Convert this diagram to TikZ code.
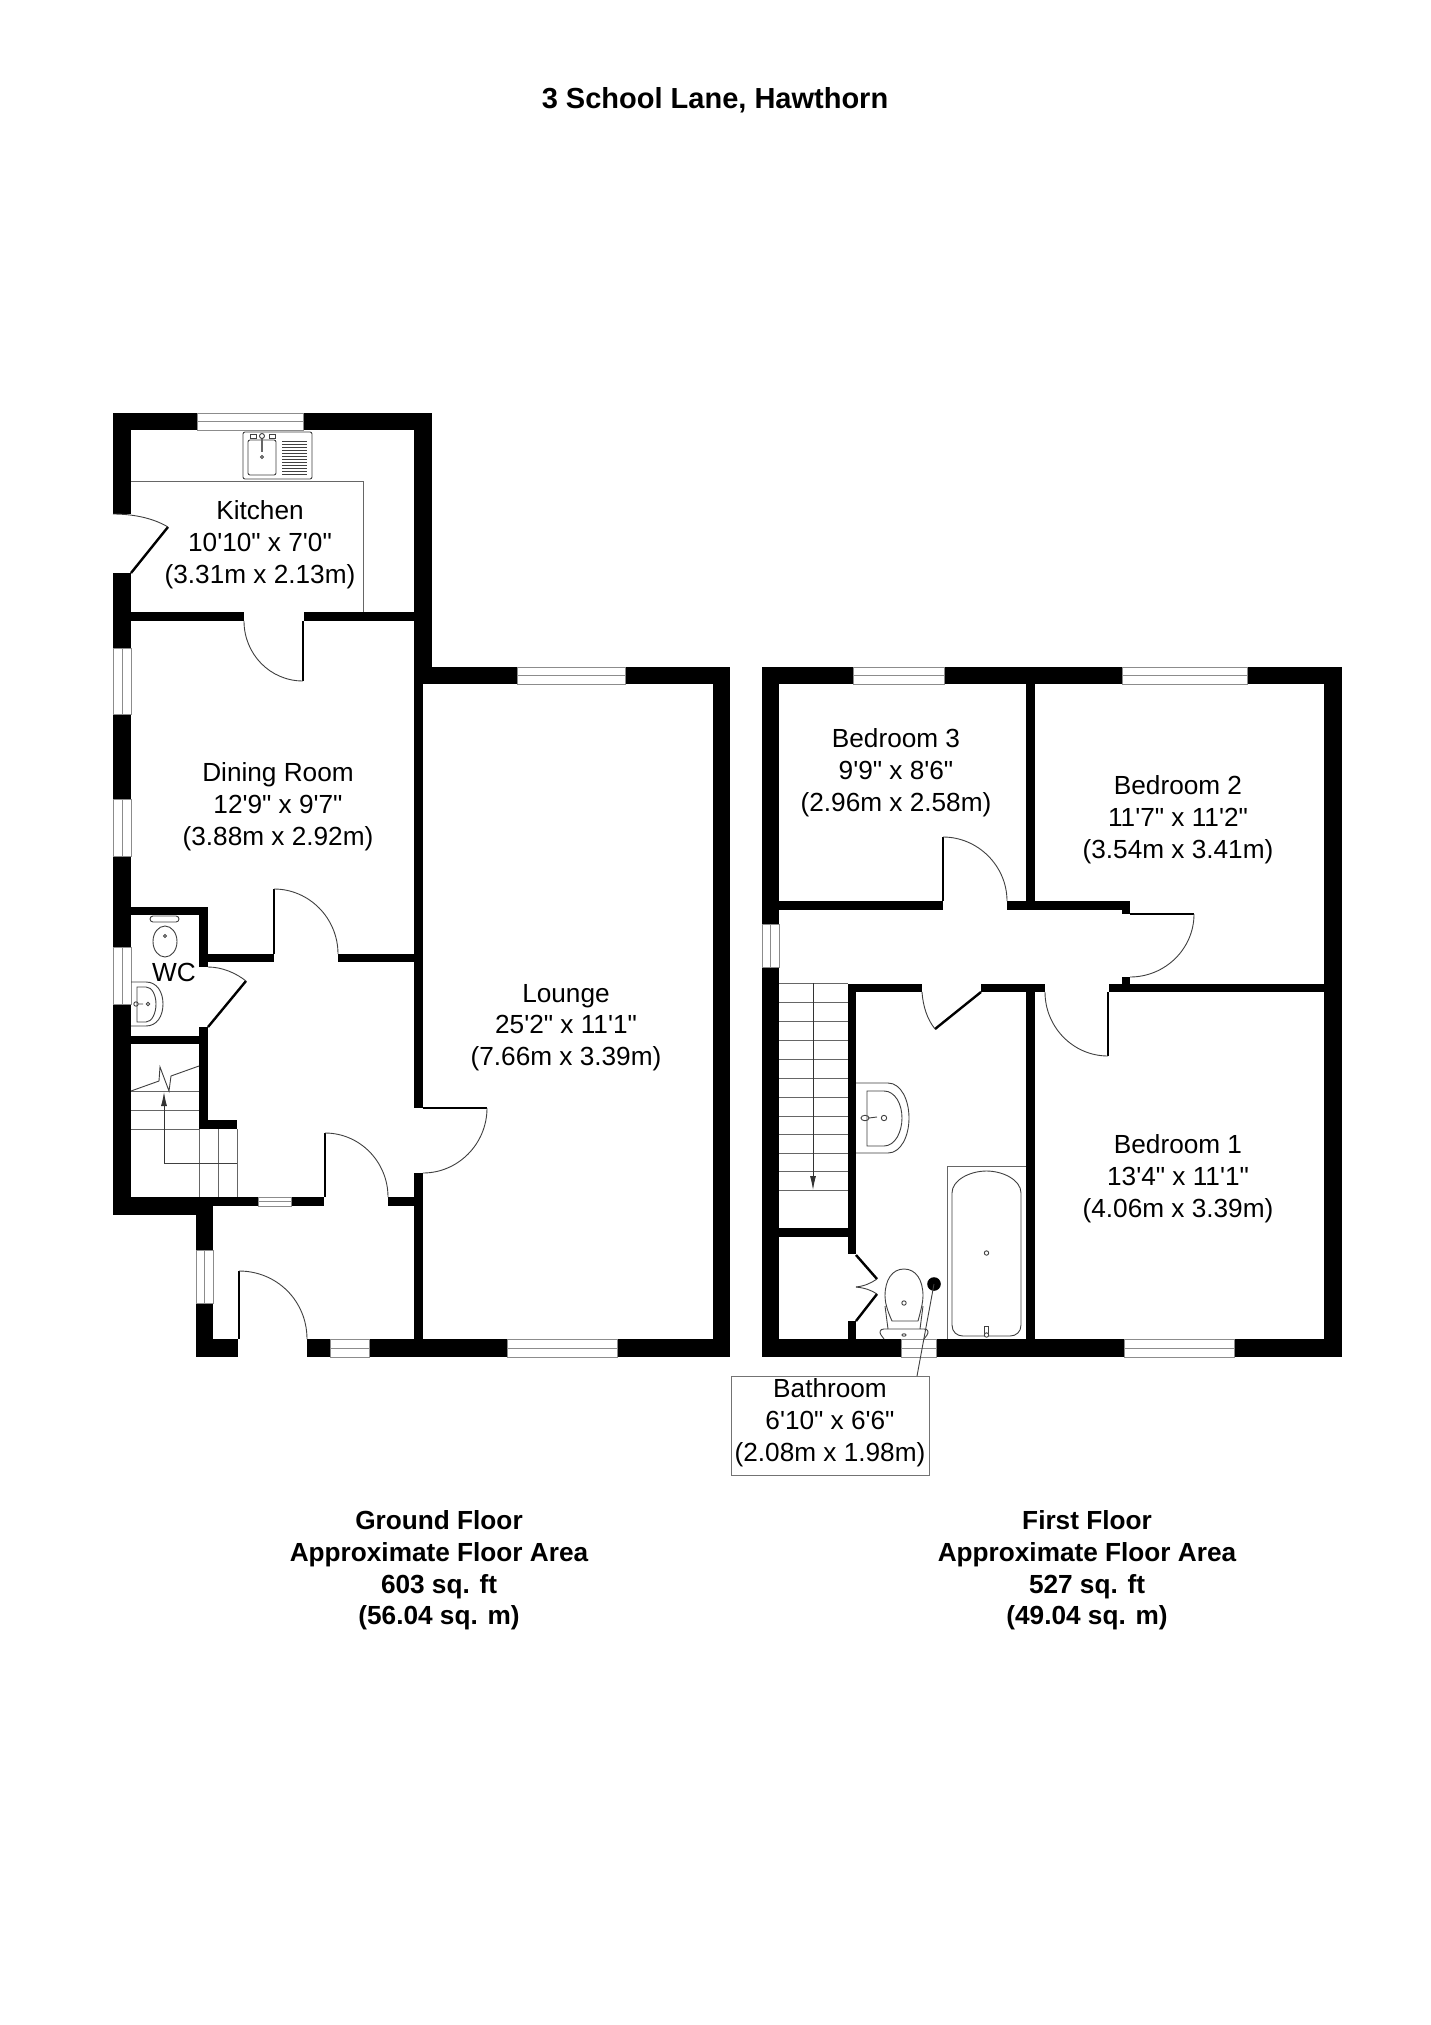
\documentclass[tikz,border=0pt]{standalone}
\usepackage{fontspec}
\setmainfont[Ligatures=TeXOff]{Liberation Sans}
\usetikzlibrary{arrows.meta}
\tikzset{
  wall/.style={fill=black,draw=none},
  window/.style={fill=white,draw=black!45,line width=1pt},
  paneline/.style={draw=black!45,line width=1pt},
  leaf/.style={draw=black,line width=2.4pt},
  swing/.style={draw=black!75,line width=0.9pt},
  fitting/.style={draw=black!75,line width=0.9pt},
  tread/.style={draw=black!60,line width=1pt},
  run/.style={draw=black!80,line width=0.9pt,-{Latex[length=14pt,width=6pt]}},
  roomlabel/.style={align=center,inner sep=0pt,font=\fontsize{26.2}{31.8}\selectfont},
  arealabel/.style={align=center,inner sep=0pt,font=\fontsize{26.2}{31.8}\selectfont\bfseries}
}
\begin{document}
\begin{tikzpicture}[x=1pt,y=-1pt]
\useasboundingbox (0,0) rectangle (1431,2025);
\fill[white] (0,0) rectangle (1431,2025);
% ground floor
\fill[wall] (113,413) rectangle (432,430);
\fill[wall] (113,413) rectangle (131,514);
\fill[wall] (113,573) rectangle (131,1215);
\fill[wall] (414,413) rectangle (432,667);
\fill[wall] (414,667) rectangle (423,1108);
\fill[wall] (414,667) rectangle (730,684);
\fill[wall] (713,667) rectangle (730,1357);
\fill[wall] (113,612) rectangle (244,621);
\fill[wall] (304,612) rectangle (432,621);
\fill[wall] (113,907) rectangle (208,915);
\fill[wall] (199,907) rectangle (208,967);
\fill[wall] (199,954) rectangle (274,962);
\fill[wall] (338,954) rectangle (423,962);
\fill[wall] (199,1027) rectangle (208,1129);
\fill[wall] (113,1036) rectangle (208,1044);
\fill[wall] (199,1120) rectangle (237,1129);
\fill[wall] (113,1197) rectangle (324,1206);
\fill[wall] (388,1197) rectangle (423,1206);
\fill[wall] (113,1197) rectangle (213,1215);
\fill[wall] (196,1215) rectangle (213,1357);
\fill[wall] (414,1173) rectangle (423,1339);
\fill[wall] (196,1339) rectangle (238,1357);
\fill[wall] (307,1339) rectangle (730,1357);
\draw[window] (197,413) rectangle (303,430);
\draw[paneline] (197,421.5) -- (303,421.5);
\draw[window] (517,667) rectangle (625,684);
\draw[paneline] (517,675.5) -- (625,675.5);
\draw[window] (113,648) rectangle (131,714);
\draw[paneline] (122,648) -- (122,714);
\draw[window] (113,799) rectangle (131,856);
\draw[paneline] (122,799) -- (122,856);
\draw[window] (113,947) rectangle (131,1004);
\draw[paneline] (122,947) -- (122,1004);
\draw[window] (258,1197) rectangle (291,1206);
\draw[paneline] (258,1201.5) -- (291,1201.5);
\draw[window] (196,1250) rectangle (213,1303);
\draw[paneline] (204.5,1250) -- (204.5,1303);
\draw[window] (330,1339) rectangle (369,1357);
\draw[paneline] (330,1348) -- (369,1348);
\draw[window] (507,1339) rectangle (617,1357);
\draw[paneline] (507,1348) -- (617,1348);
% ground floor doors
\draw[leaf] (131,573) -- (168,527);
\draw[swing] (113,514) .. controls (133,514) and (153,518) .. (168,527);
\draw[leaf] (303,621) -- (303,681);
\draw[swing] (244,621) .. controls (244,654) and (270,681) .. (303,681);
\draw[leaf] (274,954) -- (274,889);
\draw[swing] (274,889) .. controls (309,889) and (338,918) .. (338,954);
\draw[leaf] (208,1027) -- (246,981);
\draw[swing] (208,967) .. controls (222,967) and (236,973) .. (246,981);
\draw[leaf] (423,1108) -- (487,1108);
\draw[swing] (487,1108) .. controls (487,1144) and (458,1173) .. (423,1173);
\draw[leaf] (325,1197) -- (325,1133);
\draw[swing] (325,1133) .. controls (360,1133) and (388,1162) .. (388,1197);
\draw[leaf] (239,1339) -- (239,1271);
\draw[swing] (239,1271) .. controls (277,1271) and (307,1301) .. (307,1339);
% kitchen fittings
\draw[tread] (131,481) -- (363,481) -- (363,612);
\draw[fitting,fill=white,rounded corners=2pt] (243,432) rectangle (312,479);
\draw[fitting,rounded corners=2pt] (248,440) rectangle (276,475);
\draw[fitting,line width=0.7pt] (282,441) -- (307,441) (282,444) -- (307,444) (282,447) -- (307,447)
  (282,450) -- (307,450) (282,453) -- (307,453) (282,456) -- (307,456) (282,459) -- (307,459)
  (282,462) -- (307,462) (282,465) -- (307,465) (282,468) -- (307,468) (282,471) -- (307,471) (282,474) -- (307,474);
\draw[black!60,line width=2.5pt] (262,438) -- (262,452);
\draw[fitting,fill=white] (262,436) circle (2.5pt);
\draw[fitting] (262,457) circle (1.5pt);
\draw[fitting] (250,434.5) rectangle (256,438) (269,434.5) rectangle (275,438);
% wc fittings
\draw[fitting,rounded corners=3pt] (150,916) rectangle (179,922);
\draw[fitting] (165,941.5) ellipse [x radius=12,y radius=15.5];
\draw[fitting] (165,936) circle (1.5pt);
\draw[fitting] (131,982) -- (146,982) .. controls (157,982) and (163,992) .. (163,1004) .. controls (163,1016) and (157,1026) .. (146,1026) -- (131,1026);
\draw[fitting] (137,987) -- (146,987) .. controls (152,987) and (156,995) .. (156,1004) .. controls (156,1013) and (152,1022) .. (146,1022) -- (137,1022) -- cycle;
\draw[fitting] (148,1004) circle (1.7pt);
\draw[fitting] (136,1004) circle (2.2pt) (138,1004) -- (143,1004);
\node[roomlabel] (wclabel) at (174,972) {WC};
% ground floor stairs
\draw[tread] (131,1091) -- (199,1091);
\draw[tread] (131,1110) -- (199,1110);
\draw[tread] (131,1129) -- (199,1129);
\draw[tread] (199,1129) -- (199,1197);
\draw[tread] (218,1129) -- (218,1197);
\draw[tread] (237,1129) -- (237,1197);
\draw[fitting] (164,1163) -- (237,1163);
\draw[run] (164,1163) -- (164,1092);
\draw[fitting] (131,1091) -- (159,1081) -- (160,1067) -- (169,1091) -- (171,1076) -- (199,1066);
% first floor
\fill[wall] (762,667) rectangle (1342,684);
\fill[wall] (762,667) rectangle (779,1357);
\fill[wall] (1324,667) rectangle (1342,1357);
\fill[wall] (762,1339) rectangle (1342,1357);
\fill[wall] (1026,667) rectangle (1035,910);
\fill[wall] (762,901) rectangle (943,910);
\fill[wall] (1007,901) rectangle (1130,910);
\fill[wall] (1122,910) rectangle (1130,914);
\fill[wall] (1122,977) rectangle (1130,984);
\fill[wall] (848,984) rectangle (922,992);
\fill[wall] (981,984) rectangle (1045,992);
\fill[wall] (1109,984) rectangle (1324,992);
\fill[wall] (1026,984) rectangle (1035,1339);
\fill[wall] (848,984) rectangle (856,1254);
\fill[wall] (762,1228) rectangle (856,1237);
\fill[wall] (848,1321) rectangle (856,1339);
\draw[window] (853,667) rectangle (944,684);
\draw[paneline] (853,675.5) -- (944,675.5);
\draw[window] (1122,667) rectangle (1247,684);
\draw[paneline] (1122,675.5) -- (1247,675.5);
\draw[window] (762,924) rectangle (779,967);
\draw[paneline] (770.5,924) -- (770.5,967);
\draw[window] (901,1339) rectangle (936,1357);
\draw[paneline] (901,1348) -- (936,1348);
\draw[window] (1124,1339) rectangle (1234,1357);
\draw[paneline] (1124,1348) -- (1234,1348);
% first floor doors
\draw[leaf] (943,901) -- (943,837);
\draw[swing] (943,837) .. controls (978,837) and (1007,866) .. (1007,901);
\draw[leaf] (1130,914) -- (1194,914);
\draw[swing] (1194,914) .. controls (1194,949) and (1165,977) .. (1130,977);
\draw[leaf] (981,992) -- (935,1029);
\draw[swing] (922,992) .. controls (923,1006) and (927,1019) .. (935,1029);
\draw[leaf] (1108,992) -- (1108,1056);
\draw[swing] (1045,992) .. controls (1045,1027) and (1073,1056) .. (1108,1056);
\draw[leaf] (856,1255) -- (877,1279);
\draw[leaf] (856,1321) -- (877,1294);
\draw[swing] (856,1287) .. controls (865,1286) and (871,1283) .. (877,1279);
\draw[swing] (856,1287) .. controls (865,1288) and (871,1290) .. (877,1294);
% first floor stairs
\draw[tread] (779,983) -- (848,983);
\draw[tread] (779,1002) -- (848,1002);
\draw[tread] (779,1021) -- (848,1021);
\draw[tread] (779,1040) -- (848,1040);
\draw[tread] (779,1059) -- (848,1059);
\draw[tread] (779,1078) -- (848,1078);
\draw[tread] (779,1097) -- (848,1097);
\draw[tread] (779,1116) -- (848,1116);
\draw[tread] (779,1134) -- (848,1134);
\draw[tread] (779,1153) -- (848,1153);
\draw[tread] (779,1171) -- (848,1171);
\draw[tread] (779,1190) -- (848,1190);
\draw[run] (813,983) -- (813,1190);
% bathroom fittings
\draw[fitting] (856,1083) -- (888,1083) .. controls (901,1083) and (909,1100) .. (909,1118) .. controls (909,1136) and (901,1153) .. (888,1153) -- (856,1153);
\draw[fitting] (867,1091) -- (884,1091) .. controls (895,1091) and (902,1104) .. (902,1118) .. controls (902,1132) and (895,1146) .. (884,1146) -- (867,1146) -- cycle;
\draw[fitting] (884,1118) circle (2.7pt);
\draw[fitting] (865,1118) ellipse [x radius=4,y radius=2.7];
\draw[fitting] (869,1118) -- (877,1117);
\draw[tread] (947,1339) -- (947,1166) -- (1026,1166);
\draw[fitting] (952,1325) -- (952,1193) .. controls (952,1180) and (970,1171) .. (986.5,1171) .. controls (1003,1171) and (1021,1180) .. (1021,1193) -- (1021,1325)
  .. controls (1021,1332) and (1016,1336) .. (1010,1336) -- (963,1336) .. controls (957,1336) and (952,1332) .. (952,1325);
\draw[fitting] (986.5,1253) circle (2.2pt);
\draw[fitting,fill=white] (984.5,1326) rectangle (988.5,1333);
\draw[fitting,fill=white] (986.5,1335) circle (2.2pt);
\draw[fitting] (892,1321) .. controls (887,1310) and (885,1302) .. (885,1296) .. controls (885,1280) and (892,1269) .. (904,1269) .. controls (916,1269) and (923,1280) .. (923,1296) .. controls (923,1302) and (921,1310) .. (918,1321) -- cycle;
\draw[fitting] (904,1303) circle (2.2pt);
\draw[fitting] (885,1306) -- (888,1329) (923,1306) -- (920,1329);
\draw[fitting] (884,1329) -- (924,1329) .. controls (928,1329) and (929,1332) .. (927,1335) -- (924,1339) (884,1329) .. controls (880,1329) and (879,1332) .. (881,1335) -- (884,1339);
\draw[fitting] (904,1335) ellipse [x radius=2,y radius=1.2];
\coordinate (bathdot) at (934,1284);
\fill (bathdot) circle (6.8pt);
% labels
\node[roomlabel] (kitchenlabel) at (260,544.5) {Kitchen\\10'10" x 7'0"\\(3.31m x 2.13m)};
\node[roomlabel] (dininglabel) at (278,806.5) {Dining Room\\12'9" x 9'7"\\(3.88m x 2.92m)};
\node[roomlabel] (loungelabel) at (566,1027.5) {Lounge\\25'2" x 11'1"\\(7.66m x 3.39m)};
\node[roomlabel] (bedthreelabel) at (896,772.5) {Bedroom 3\\9'9" x 8'6"\\(2.96m x 2.58m)};
\node[roomlabel] (bedtwolabel) at (1178,819.5) {Bedroom 2\\11'7" x 11'2"\\(3.54m x 3.41m)};
\node[roomlabel] (bedonelabel) at (1178,1178.5) {Bedroom 1\\13'4" x 11'1"\\(4.06m x 3.39m)};
\node[draw=black!55,line width=1pt,minimum width=198pt,minimum height=99pt,inner sep=0pt] (bathbox) at (830,1425.5) {};
\node[roomlabel] (bathlabel) at (830,1422.5) {Bathroom\\6'10" x 6'6"\\(2.08m x 1.98m)};
\draw[fitting] (bathdot) -- (917,1376);
\node[arealabel,font=\fontsize{29}{31.8}\selectfont\bfseries] (titlelabel) at (715,100) {3 School Lane, Hawthorn};
\node[arealabel] (groundlabel) at (439,1570.5) {Ground Floor\\Approximate Floor Area\\603 sq. ft\\(56.04 sq. m)};
\node[arealabel] (firstlabel) at (1087,1570.5) {First Floor\\Approximate Floor Area\\527 sq. ft\\(49.04 sq. m)};
\end{tikzpicture}
\end{document}
